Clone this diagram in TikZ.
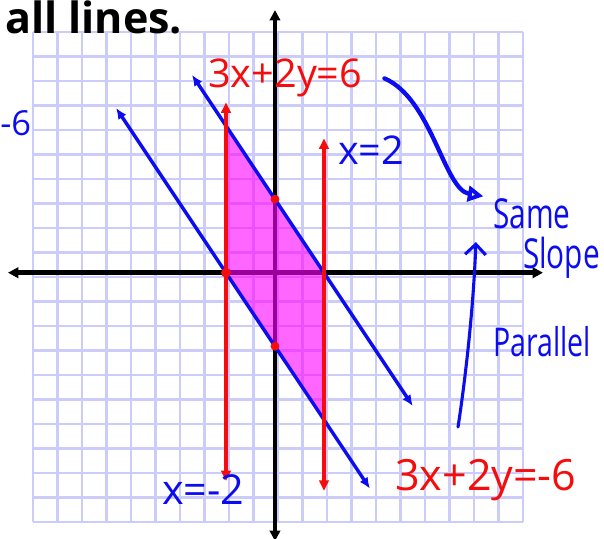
\documentclass[tikz,border=0pt]{standalone}
\usepackage{fontspec}
\setmainfont{Open Sans}
\newfontfamily\tallhand[FakeStretch=0.72]{Open Sans}
\usetikzlibrary{arrows.meta}
\definecolor{GphGrid}{RGB}{204,204,250}
\definecolor{GphBlue}{RGB}{12,12,240}
\definecolor{GphRed}{RGB}{245,12,12}
\definecolor{GphPink}{RGB}{255,0,255}
\tikzset{
  gph/grid/.style={draw=GphGrid, line width=2.8pt},
  gph/axis/.style={
    {Triangle[length=12pt,width=12pt]}-{Triangle[length=12pt,width=12pt]},
    line width=5.4pt,
    draw=black
  },
  gph/line/.style={
    {Latex[length=13pt,width=11pt]}-{Latex[length=13pt,width=11pt]},
    line width=4pt,
    draw=GphBlue
  },
  gph/vert/.style={
    {Triangle[length=12pt,width=11pt]}-{Triangle[length=12pt,width=11pt]},
    line width=4pt,
    draw=GphRed
  },
  gph/shade/.style={fill=GphPink, fill opacity=0.6},
  gph/dot/.style={fill=GphRed},
  gph/redlabel/.style={text=GphRed, inner sep=0pt, font=\fontsize{46}{50}\selectfont},
  gph/bluelabel/.style={text=GphBlue, inner sep=0pt, font=\fontsize{46}{50}\selectfont},
  gph/word/.style={text=GphBlue, inner sep=0pt, font=\tallhand\fontsize{48}{52}\selectfont},
  gph/title/.style={text=black, inner sep=0pt, font=\bfseries\fontsize{50}{54}\selectfont},
  gph/curvearrow/.style={-{Triangle[open,length=18pt,width=18pt]}, line width=5pt, draw=GphBlue, line cap=round},
  gph/thinarrow/.style={-{Straight Barb[length=12pt,width=24pt]}, line width=3.6pt, draw=GphBlue, line cap=round}
}

\begin{document}
\begin{tikzpicture}[x=1cm,y=1cm]
  \useasboundingbox (-11.224,-10.829) rectangle (13.429,11.131);
  \fill[white] (-11.224,-10.829) rectangle (13.429,11.131);

  % grid paper and axes
  \draw[gph/grid, shift={(0.12,-0.18)}] (-10,-10) grid (10,10);
  \draw[gph/axis] (-10.9,0) -- (10.94,0);
  \draw[gph/axis] (0,-10.95) -- (0,10.72);

  % region between the four lines
  \fill[gph/shade] (-2,6) -- (2,0) -- (2,-6) -- (-2,0) -- cycle;

  % 3x+2y=6 and 3x+2y=-6
  \draw[gph/line] (-3.39,8.08) -- (5.63,-5.45);
  \draw[gph/line] (-6.49,6.73) -- (3.88,-8.82);

  % x=-2 and x=2
  \draw[gph/vert] (-2,6.95) -- (-2,-8.5);
  \draw[gph/vert] (2,5.48) -- (2,-8.9);

  % intercepts
  \fill[gph/dot] (-2,0) circle (0.2);
  \fill[gph/dot] (0,3) circle (0.18);
  \fill[gph/dot] (0,-3) circle (0.18);

  % labels
  \node[gph/title, anchor=base west] (allTxt) at (-11.02,9.78) {all lines.};
  \node[gph/bluelabel, font=\fontsize{40}{44}\selectfont, anchor=base east] (minusSix) at (-9.95,5.62) {-6};
  \node[gph/redlabel, anchor=base west] (eqTop) at (-2.73,7.54) {3x+2y=6};
  \node[gph/redlabel, font=\fontsize{50}{54}\selectfont, anchor=base west] (eqBot) at (4.9,-8.87) {3x+2y=-6};
  \node[gph/bluelabel, anchor=base west] (xTwo) at (2.57,4.40) {x=2};
  \node[gph/bluelabel, font=\fontsize{48}{52}\selectfont, anchor=base west] (xNegTwo) at (-4.61,-9.48) {x=-2};
  \node[gph/word, anchor=base west] (sameTxt) at (8.9,1.82) {Same};
  \node[gph/word, anchor=base west] (slopeTxt) at (10.12,0.19) {Slope};
  \node[gph/word, font=\tallhand\fontsize{46}{50}\selectfont, anchor=base west] (parTxt) at (8.9,-3.4) {Parallel};

  % notes
  \coordinate (parFoot) at (7.47,-6.3);
  \coordinate (slopeTip) at (8.2,1.25);
  \draw[gph/curvearrow, shorten >=0.4cm]
    ([xshift=0.9cm]eqTop.east) .. controls (6.4,7.1) and (6.9,3.4) .. (sameTxt.north west);
  \draw[gph/thinarrow] (parFoot) .. controls (7.75,-4.5) and (8.1,-1.5) .. (slopeTip);
\end{tikzpicture}
\end{document}
